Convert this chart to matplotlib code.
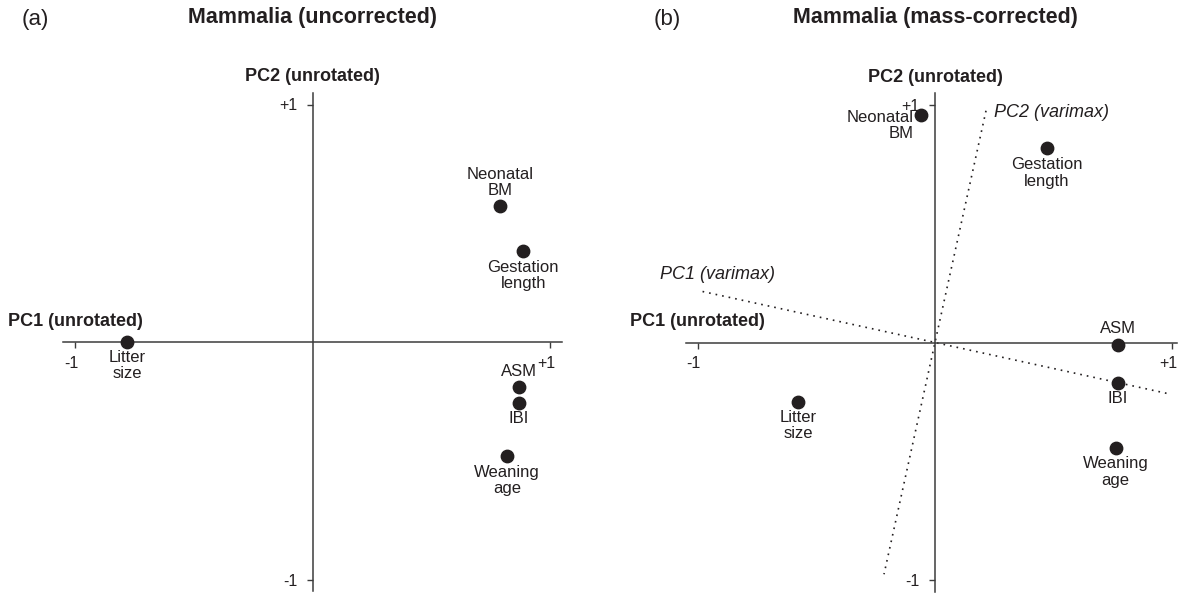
import matplotlib
matplotlib.use("Agg")
import matplotlib.pyplot as plt
from matplotlib.transforms import ScaledTranslation

plt.rcParams['font.family'] = ['Liberation Sans', 'DejaVu Sans']

# figure size in pixels
W, H = 1178, 594
INK = '#231f20'
AXIS = '#3c3c3c'

# Loadings, panel (a): uncorrected
traits_a = ["Litter\nsize", "Neonatal\nBM", "Gestation\nlength", "ASM", "IBI", "Weaning\nage"]
pc1_a = [-0.78, 0.79, 0.887, 0.868, 0.868, 0.818]
pc2_a = [0.0, 0.573, 0.382, -0.191, -0.258, -0.479]

# Loadings, panel (b): mass-corrected
traits_b = ["Neonatal\nBM", "Gestation\nlength", "ASM", "IBI", "Litter\nsize", "Weaning\nage"]
pc1_b = [-0.059, 0.471, 0.771, 0.771, -0.578, 0.762]
pc2_b = [0.958, 0.82, -0.01, -0.169, -0.249, -0.443]

# varimax axes drawn in panel (b)
varimax1_x = [-0.98, 0.98]
varimax1_y = [0.215, -0.215]
varimax2_x = [0.215, -0.215]
varimax2_y = [0.977, -0.977]

# label offsets (pixels) and alignment for each point
offsets_a = [(0, -23.5, 'center'), (0, 23.5, 'center'), (0, -24.5, 'center'),
             (0, 16, 'center'), (0, -15.5, 'center'), (0, -24.7, 'center')]
offsets_b = [(-7, -10, 'right'), (0, -24.8, 'center'), (0, 16, 'center'),
             (0, -16, 'center'), (0, -24.2, 'center'), (0, -24.5, 'center')]

PX = 72 / 100  # points per pixel at dpi 100


def make_axes(fig, cx, cy, k, xlim, ylim, xbounds):
    rect = [(cx + xlim[0] * k) / W, (H - cy + ylim[0] * k) / H,
            (xlim[1] - xlim[0]) * k / W, (ylim[1] - ylim[0]) * k / H]
    ax = fig.add_axes(rect)
    ax.set_xlim(xlim)
    ax.set_ylim(ylim)
    ax.patch.set_visible(False)
    ax.spines['top'].set_visible(False)
    ax.spines['right'].set_visible(False)
    for s in ['left', 'bottom']:
        ax.spines[s].set_position(('data', 0))
        ax.spines[s].set_color(AXIS)
        ax.spines[s].set_linewidth(1.1)
    ax.spines['bottom'].set_bounds(*xbounds)
    ax.spines['left'].set_bounds(-1.05, 1.05)
    ax.set_xticks([-1, 1])
    ax.set_xticklabels(['-1', '+1'])
    ax.set_yticks([-1, 1])
    ax.set_yticklabels(['-1', '+1'])
    ax.tick_params(direction='out', length=4, width=1, color=AXIS,
                   labelsize=11.5, labelcolor=INK)
    ax.tick_params(axis='x', pad=6)
    ax.tick_params(axis='y', pad=7)
    # x tick labels sit a little left of their ticks
    shift = ScaledTranslation(-4 / 100, 0, fig.dpi_scale_trans)
    for lbl in ax.get_xticklabels():
        lbl.set_transform(lbl.get_transform() + shift)
    ax.text(-1.0, 0.088, "PC1 (unrotated)", ha='center', va='center',
            fontsize=13, fontweight='bold', color=INK)
    ax.text(0, 1.116, "PC2 (unrotated)", ha='center', va='center',
            fontsize=13, fontweight='bold', color=INK)
    return ax


def draw_points(ax, xs, ys, names, offs):
    ax.scatter(xs, ys, s=80, color=INK, zorder=3, clip_on=False)
    for x, y, name, (dx, dy, ha) in zip(xs, ys, names, offs):
        ax.annotate(name, (x, y), xytext=(dx * PX, dy * PX), textcoords='offset points',
                    ha=ha, va='center', multialignment=ha, fontsize=12,
                    color=INK, linespacing=1.12)


fig = plt.figure(figsize=(W / 100, H / 100), dpi=100)

# panel (a)
ax_a = make_axes(fig, 312.5, 342, 237.5, (-1.1, 1.1), (-1.05, 1.05), (-1.05, 1.05))
draw_points(ax_a, pc1_a, pc2_a, traits_a, offsets_a)
fig.text(35 / W, 1 - 20 / H, "(a)", ha='center', va='center', fontsize=16, color=INK)
fig.text(312.5 / W, 1 - 18 / H, "Mammalia (uncorrected)", ha='center', va='center',
         fontsize=15.5, fontweight='bold', color=INK)

# panel (b)
ax_b = make_axes(fig, 935, 342.5, 237.2, (-1.1, 1.02), (-1.05, 1.05), (-1.05, 1.02))
ax_b.plot(varimax1_x, varimax1_y, linestyle=(0, (1, 3)), color=INK, lw=1.2, zorder=2)
ax_b.plot(varimax2_x, varimax2_y, linestyle=(0, (1, 3)), color=INK, lw=1.2, zorder=2)
ax_b.text(-0.915, 0.285, "PC1 (varimax)", ha='center', va='center', fontsize=13,
          style='italic', color=INK)
ax_b.text(0.25, 0.971, "PC2 (varimax)", ha='left', va='center', fontsize=13,
          style='italic', color=INK)
draw_points(ax_b, pc1_b, pc2_b, traits_b, offsets_b)
fig.text(667 / W, 1 - 20 / H, "(b)", ha='center', va='center', fontsize=16, color=INK)
fig.text(935 / W, 1 - 18 / H, "Mammalia (mass-corrected)", ha='center', va='center',
         fontsize=15.5, fontweight='bold', color=INK)

fig.savefig("out.png", dpi=100)
